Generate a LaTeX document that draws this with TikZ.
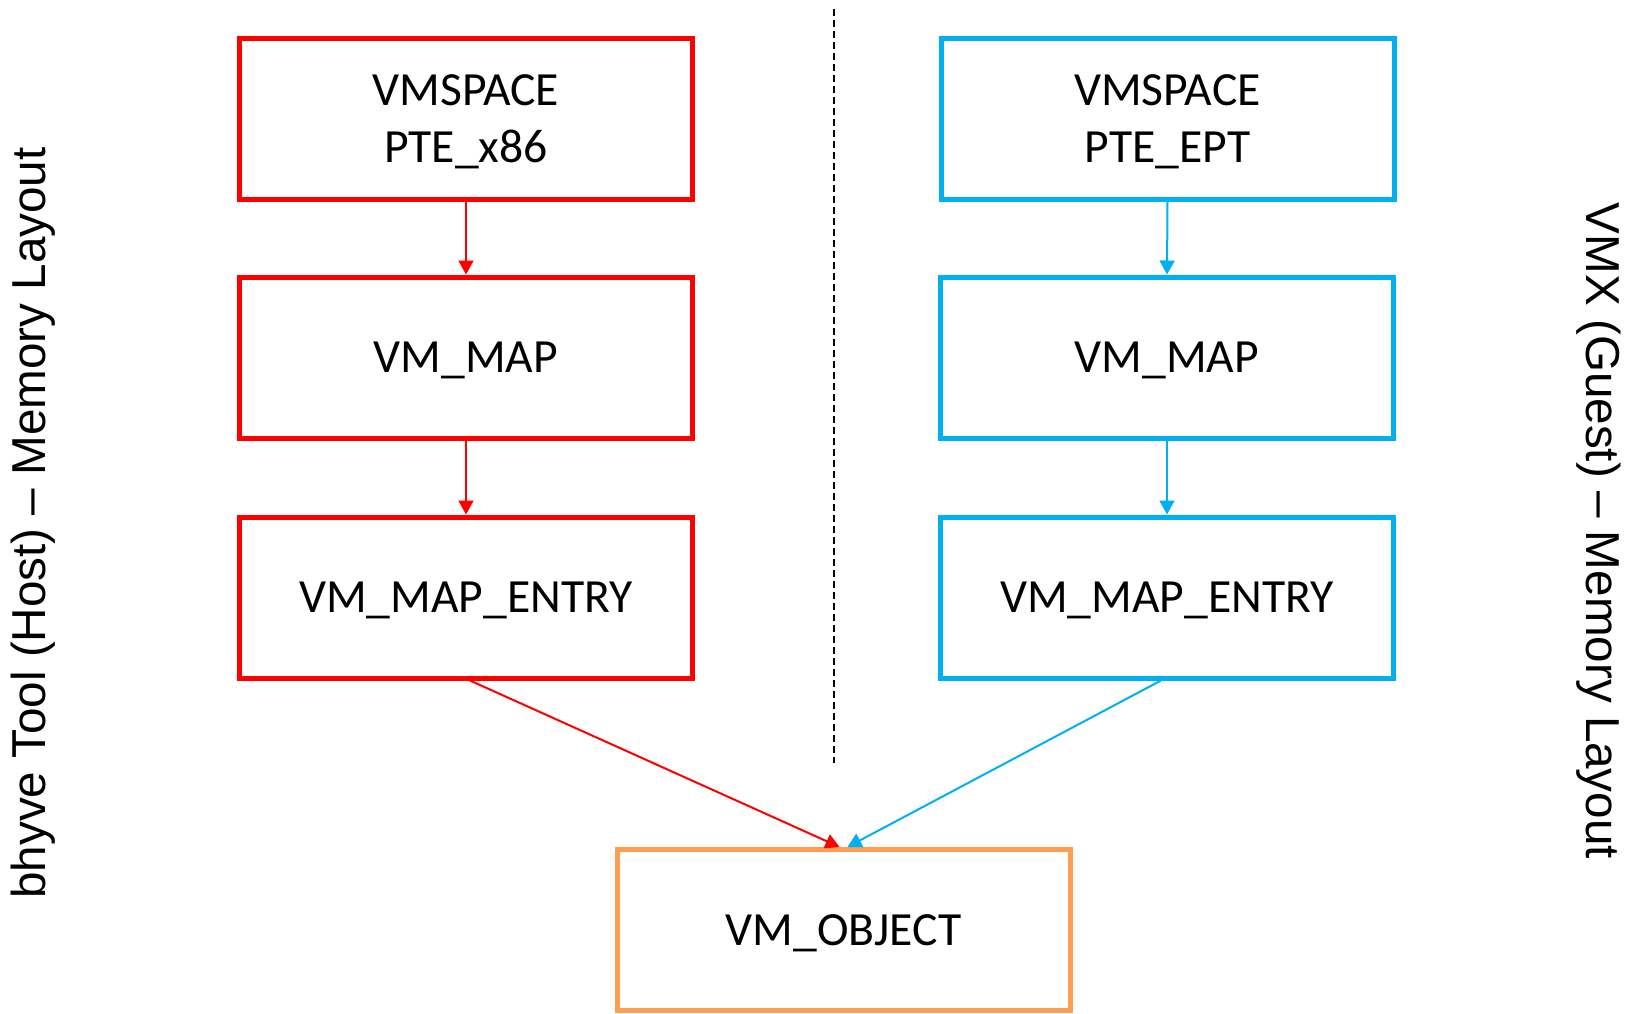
\documentclass[tikz,border=0pt]{standalone}
\usepackage{fontspec}
\setmainfont{Carlito}
\newfontfamily\sidefont{Liberation Sans}
\usetikzlibrary{arrows.meta}
\definecolor{hostred}{RGB}{255,0,0}
\definecolor{guestblue}{RGB}{0,176,240}
\definecolor{objorange}{RGB}{255,158,80}
\tikzset{
  boxbase/.style={draw, line width=2.5pt, minimum width=226.5pt, minimum height=80.5pt,
    align=center, font=\fontsize{23.8}{28.5}\selectfont, inner sep=0pt, text depth=-2pt},
  redbox/.style={boxbase, draw=hostred},
  bluebox/.style={boxbase, draw=guestblue},
  orangebox/.style={boxbase, draw=objorange},
  redarrow/.style={draw=hostred, line width=1pt, -{Triangle[length=7pt,width=7.5pt]}},
  bluearrow/.style={draw=guestblue, line width=1pt, -{Triangle[length=7pt,width=7.5pt]}},
  sidelabel/.style={font=\sidefont\fontsize{23.8}{28}\selectfont, inner sep=0pt},
  divider/.style={line width=0.8pt, dash pattern=on 3.5pt off 2pt}
}
\begin{document}
\begin{tikzpicture}[x=0.5pt,y=-0.5pt]
\useasboundingbox (0,0) rectangle (1629,1013);
% left column
\node[redbox] (r1) at (466,118.5) {VMSPACE\\PTE\_x86};
\node[redbox] (r2) at (466,357.5) {VM\_MAP};
\node[redbox] (r3) at (466,597.5) {VM\_MAP\_ENTRY};
% right column
\node[bluebox] (b1) at (1167.5,118.5) {VMSPACE\\PTE\_EPT};
\node[bluebox] (b2) at (1167,357.5) {VM\_MAP};
\node[bluebox] (b3) at (1167,597.5) {VM\_MAP\_ENTRY};
% object
\node[orangebox] (o) at (843.5,930) {VM\_OBJECT};
% connectors
\draw[redarrow] (r1.south) -- (r2.north);
\draw[redarrow] (r2.south) -- (r3.north);
\draw[bluearrow] (b1.south) -- (b2.north);
\draw[bluearrow] (b2.south) -- (b3.north);
\draw[redarrow] ([xshift=2pt]r3.south) -- ([xshift=-2pt]o.north);
\draw[bluearrow] ([xshift=-3pt]b3.south) -- ([xshift=2pt]o.north);
% divider
\coordinate (dtop) at (834,9);
\coordinate (dbot) at (834,763);
\draw[divider] (dtop) -- (dbot);
% side labels
\node[sidelabel, rotate=90] (hostlbl) at (33,523) {bhyve Tool (Host) – Memory Layout};
\node[sidelabel, rotate=-90] (guestlbl) at (1599,531) {VMX (Guest) – Memory Layout};
\end{tikzpicture}
\end{document}
